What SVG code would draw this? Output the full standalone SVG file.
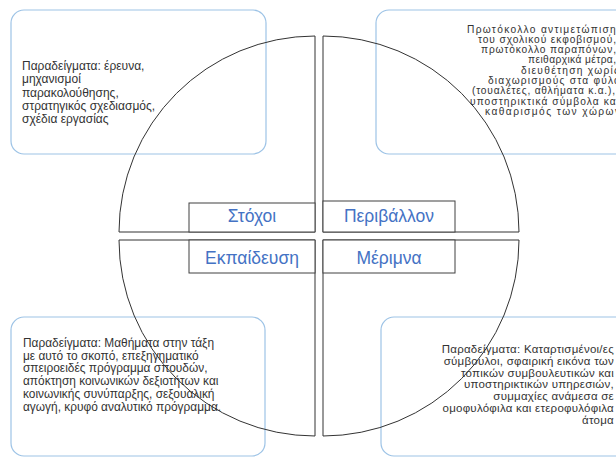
<svg xmlns="http://www.w3.org/2000/svg" width="616" height="457" viewBox="0 0 616 457">
<style>
.call{fill:none;stroke:#9DC3E6;stroke-width:1.2}
.quad{fill:none;stroke:#333333;stroke-width:1}
.lbox{fill:#FFFFFF;stroke:#404040;stroke-width:1}
.lbl{font-family:"Liberation Sans",Arial,sans-serif;font-size:17.5px;fill:#4472C4;text-anchor:middle}
.txt{font-family:"Liberation Sans",Arial,sans-serif;font-size:12px;fill:#333333}
.bl{font-size:11.9px}
.tr{font-size:10.2px}
.br{font-size:11.5px;letter-spacing:0.25px;text-anchor:end}
</style>
<rect width="616" height="457" fill="#FFFFFF"/>
<g id="callout-tl">
<rect class="call" x="11" y="10" width="255" height="144" rx="13"/>
<text class="txt"><tspan x="22" y="70">Παραδείγματα: έρευνα,</tspan><tspan x="22" y="83.3">μηχανισμοί</tspan><tspan x="22" y="96.6">παρακολούθησης,</tspan><tspan x="22" y="109.9">στρατηγικός σχεδιασμός,</tspan><tspan x="22" y="123.2">σχέδια εργασίας</tspan></text>
</g>
<g id="callout-tr">
<rect class="call" x="376" y="10" width="260" height="144" rx="13"/>
<text class="txt tr" x="467" y="32.5" textLength="155">Πρωτόκολλο αντιμετώπισης</text>
<text class="txt tr" x="478" y="42.8" textLength="138">του σχολικού εκφοβισμού,</text>
<text class="txt tr" x="481" y="53.1" textLength="135">πρωτόκολλο παραπόνων,</text>
<text class="txt tr" x="528" y="63.4" textLength="88">πειθαρχικά μέτρα,</text>
<text class="txt tr" x="521" y="73.7" textLength="98">διευθέτηση χωρίς</text>
<text class="txt tr" x="488" y="84" textLength="132">διαχωρισμούς στα φύλα</text>
<text class="txt tr" x="472" y="94.3" textLength="143">(τουαλέτες, αθλήματα κ.α.),</text>
<text class="txt tr" x="470" y="104.6" textLength="149">υποστηρικτικά σύμβολα και</text>
<text class="txt tr" x="485" y="114.9" textLength="135">καθαρισμός των χώρων</text>
</g>
<g id="callout-bl">
<rect class="call" x="11" y="317" width="254" height="139" rx="13"/>
<text class="txt bl"><tspan x="23" y="347">Παραδείγματα: Μαθήματα στην τάξη</tspan><tspan x="23" y="359.7">με αυτό το σκοπό, επεξηγηματικό</tspan><tspan x="23" y="372.4">σπειροειδές πρόγραμμα σπουδών,</tspan><tspan x="23" y="385.1">απόκτηση κοινωνικών δεξιοτήτων και</tspan><tspan x="23" y="397.8">κοινωνικής συνύπαρξης, σεξουαλική</tspan><tspan x="23" y="410.5">αγωγή, κρυφό αναλυτικό πρόγραμμα.</tspan></text>
</g>
<g id="callout-br">
<rect class="call" x="381" y="317" width="255" height="139" rx="13"/>
<text class="txt br"><tspan x="614" y="353">Παραδείγματα: Καταρτισμένοι/ες</tspan><tspan x="614" y="364.8">σύμβουλοι, σφαιρική εικόνα των</tspan><tspan x="614" y="376.6">τοπικών συμβουλευτικών και</tspan><tspan x="614" y="388.4">υποστηρικτικών υπηρεσιών,</tspan><tspan x="614" y="400.2">συμμαχίες ανάμεσα σε</tspan><tspan x="614" y="412">ομοφυλόφιλα και ετεροφυλόφιλα</tspan><tspan x="614" y="423.8">άτομα</tspan></text>
</g>
<g id="quadrants">
<path id="quad-tl" class="quad" d="M315,232 L119,232 A196,196 0 0 1 315,36 Z"/>
<path id="quad-tr" class="quad" d="M323,232 L323,36 A196,196 0 0 1 519,232 Z"/>
<path id="quad-bl" class="quad" d="M315,240 L315,436 A196,196 0 0 1 119,240 Z"/>
<path id="quad-br" class="quad" d="M323,240 L519,240 A196,196 0 0 1 323,436 Z"/>
</g>
<g id="label-stochoi">
<rect class="lbox" x="189" y="203" width="126" height="29"/>
<text class="lbl" x="252" y="222">Στόχοι</text>
</g>
<g id="label-perivallon">
<rect class="lbox" x="323" y="201" width="132" height="31"/>
<text class="lbl" x="389" y="222">Περιβάλλον</text>
</g>
<g id="label-ekpaideusi">
<rect class="lbox" x="189" y="240" width="126" height="33"/>
<text class="lbl" x="252" y="264">Εκπαίδευση</text>
</g>
<g id="label-merimna">
<rect class="lbox" x="323" y="240" width="132" height="33"/>
<text class="lbl" x="389" y="264">Μέριμνα</text>
</g>
</svg>
